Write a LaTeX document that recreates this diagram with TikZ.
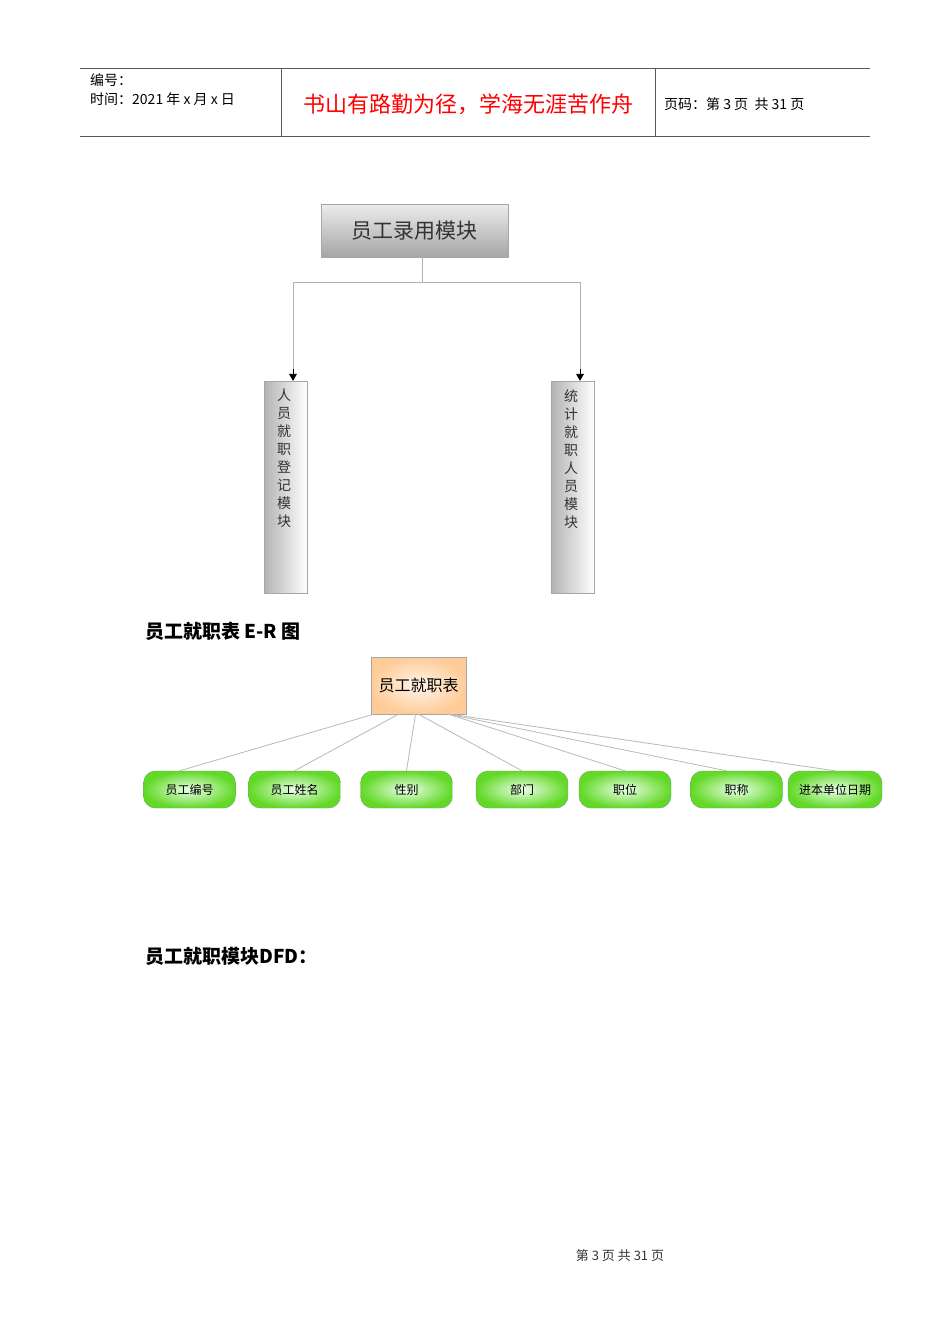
\documentclass[tikz,border=0pt]{standalone}
\usepackage{fontspec}
\setmainfont{Noto Sans CJK SC}
\usetikzlibrary{positioning,calc,arrows}
\tikzset{
  hdr/.style={anchor=west, font=\fontsize{14}{16}\selectfont, inner sep=0pt},
  vbox/.style={draw=gray!70, left color=gray!60, right color=white, minimum width=43pt, minimum height=212pt, inner sep=0pt},
  vtext/.style={anchor=north, align=center, font=\fontsize{14}{18}\selectfont, inner sep=0pt, text=black!80},
  attr/.style={draw=green!40!black!60, rounded corners=12pt, inner color=green!8!white, outer color=green!55!lime!70!gray, minimum width=92pt, minimum height=37pt, font=\fontsize{12}{14}\selectfont},
  erline/.style={draw=gray!55, line width=0.8pt},
  title/.style={anchor=west, font=\fontsize{19}{22}\selectfont\bfseries, inner sep=0pt}
}
\begin{document}
\begin{tikzpicture}[x=1pt,y=-1pt]
\useasboundingbox (0,0) rectangle (950,1344);
% header
\draw[gray!70!black, line width=0.8pt] (80,68) -- (870,68);
\draw[gray!70!black, line width=1pt] (80,136) -- (870,136);
\draw[gray!70!black] (281,68) -- (281,136) (655,68) -- (655,136);
\node[hdr] (num) at (90,80) {编号：};
\node[hdr] (date) at (90,99) {时间：2021 年 x 月 x 日};
\node[anchor=center, text=red, font=\fontsize{22}{24}\selectfont] (motto) at (468,104) {书山有路勤为径，学海无涯苦作舟};
\node[hdr] (page) at (664,104) {页码：第 3 页\ \ 共 31 页};
% module tree
\node[draw=gray!70, top color=gray!15, bottom color=gray!70, minimum width=187pt, minimum height=53pt, font=\fontsize{21}{24}\selectfont, text=black!80] (hire) at (414.5,230.5) {员工录用模块};
\node[vbox] (reg) at (285.5,487) {};
\node[vtext] (regt) at (284,389) {人\\员\\就\\职\\登\\记\\模\\块};
\node[vbox] (stat) at (572.5,487) {};
\node[vtext] (statt) at (571,389) {统\\计\\就\\职\\人\\员\\模\\块};
\coordinate (split) at (422,282);
\draw[gray!60] (hire.south -| split) -- (split);
\draw[gray!60] (split) -| (293,370);
\draw[gray!60] (split) -| (580,370);
\draw[-triangle 60, black, line width=0.9pt] (293,369) -- (reg.north -| 293,0);
\draw[-triangle 60, black, line width=0.9pt] (580,369) -- (stat.north -| 580,0);
% E-R
\node[title] (ertitle) at (145,631) {员工就职表 E-R 图};
\node[draw=gray!70, inner color=orange!8, outer color=orange!40, minimum width=95pt, minimum height=57pt, font=\fontsize{16}{18}\selectfont] (tab) at (418.5,685.5) {员工就职表};
\node[attr] (a1) at (189.5,789.5) {员工编号};
\node[attr] (a2) at (294.5,789.5) {员工姓名};
\node[attr] (a3) at (406.5,789.5) {性别};
\node[attr] (a4) at (522,789.5) {部门};
\node[attr] (a5) at (625,789.5) {职位};
\node[attr] (a6) at (736.5,789.5) {职称};
\node[attr, minimum width=94pt] (a7) at (835,789.5) {进本单位日期};
\draw[erline] (tab.south west) ++(3,0) -- ($(a1.north)+(-10,0)$);
\draw[erline] ($(tab.south)+(-20,0)$) -- (a2.north);
\draw[erline] ($(tab.south)+(-3,0)$) -- (a3.north);
\draw[erline] (tab.south) -- (a4.north);
\draw[erline] ($(tab.south)+(30,0)$) -- (a5.north);
\draw[erline] ($(tab.south)+(30,0)$) -- ($(a6.north)+(-10,0)$);
\draw[erline] ($(tab.south)+(32,0)$) -- (a7.north);
% DFD
\node[title] (dfdtitle) at (145,956) {员工就职模块DFD：};
% footer
\node[font=\fontsize{13}{15}\selectfont, text=black!80] (foot) at (620,1256) {第 3 页 共 31 页};
\end{tikzpicture}
\end{document}
